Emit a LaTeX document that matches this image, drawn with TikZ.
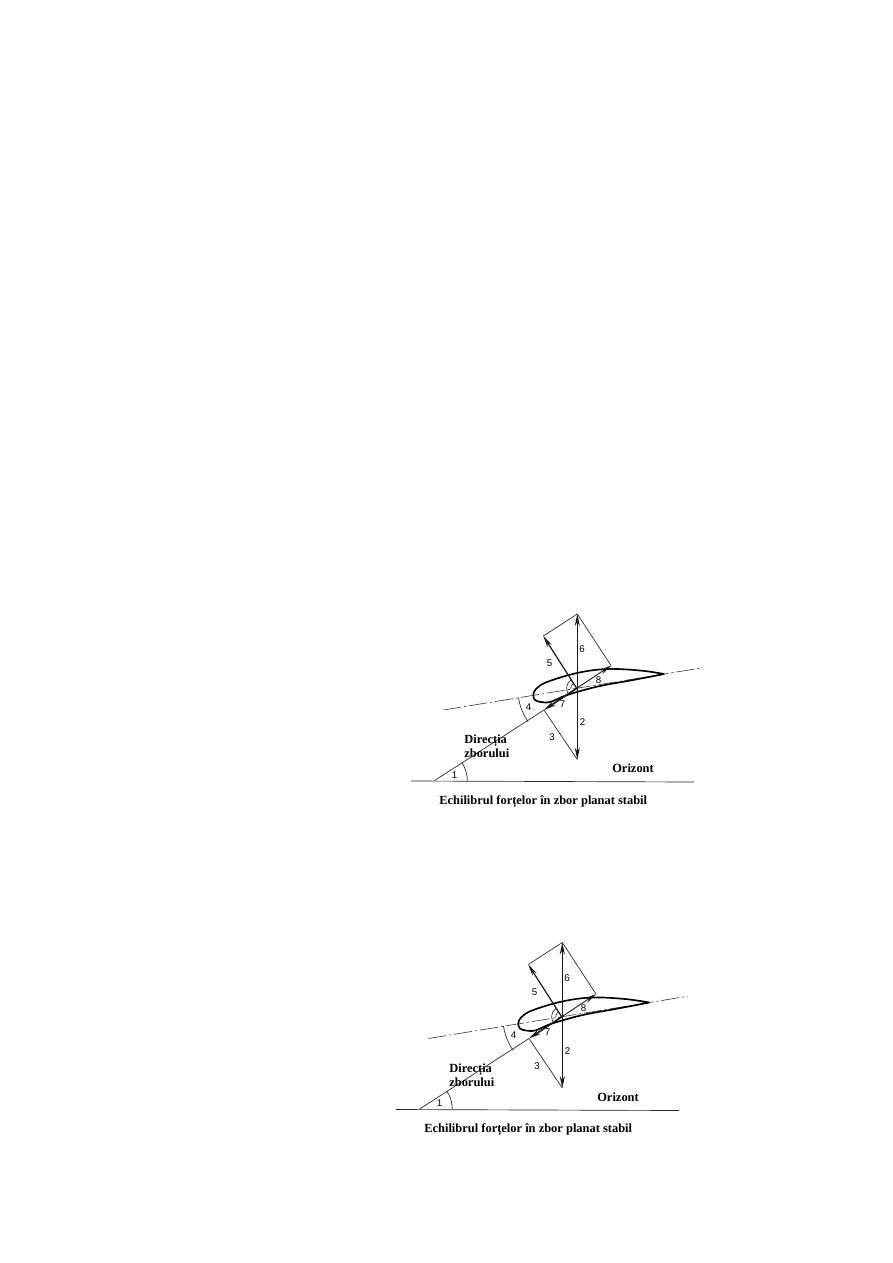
\documentclass[tikz,border=0pt]{standalone}
\usepackage{fontspec}
\setmainfont{Liberation Serif}
\newfontfamily\numfont{Liberation Sans}
\usetikzlibrary{arrows.meta}

\tikzset{
  thin line/.style={draw=black!85, line width=.45pt},
  force/.style={draw=black!90, line width=.8pt, -{Stealth[length=8pt,width=3.4pt]}},
  wing/.style={draw=black, line width=1.1pt, line join=round},
  chord/.style={draw=black!80, line width=.4pt, dash pattern=on 12pt off 2pt on 1.5pt off 2pt},
  num/.style={font=\numfont\fontsize{6.5}{7}\selectfont, inner sep=0pt},
  word/.style={font=\bfseries\fontsize{8.3}{9.6}\selectfont, inner sep=0pt, align=left}
}

\begin{document}
\begin{tikzpicture}[x=.6667pt,y=-.6667pt]

  \useasboundingbox (0,0) rectangle (893,1263);

  \foreach \dx/\dy in {0/0,-15/328.5} {
    \begin{scope}[shift={(\dx,\dy)}]
      \coordinate (hleft)  at (411,781);
      \coordinate (hright) at (694,782);
      \coordinate (start)  at (434.3,780.7);
      \coordinate (center) at (576.7,688.3);
      \coordinate (top)    at (577.3,614);
      \coordinate (bottom) at (577.3,759.5);
      \coordinate (lift)   at (543.3,636);
      \coordinate (weight) at (544,710);
      \coordinate (total)  at (611,665.5);
      \coordinate (cleft)  at (443.3,710);
      \coordinate (cright) at (703,667.7);

      \draw[thin line] (hleft) -- (hright);
      \draw[thin line] (start) -- (weight);
      \draw[chord] (cleft) -- (cright);

      \draw[wing] plot[smooth,tension=.6] coordinates {(664.3,674) (640,670.5) (607,669) (577,673)
        (547,682) (536,689) (533.3,695) (535,700) (541,702) (550,702) (563,696.5) (577,692) (600,686) (633,680) (664.3,674)};

      % forces
      \draw[force,{Stealth[length=8pt,width=3.4pt]}-{Stealth[length=8pt,width=3.4pt]}] (top) -- (bottom);
      \draw[force] (center) -- (lift);
      \draw[force,line width=1.1pt] (center) -- (weight);
      \draw[force,line width=.6pt] (center) -- (total);

      \draw[thin line] (lift) -- (top) -- (total);
      \draw[thin line] (weight) -- (bottom);

      % angles
      \draw[thin line] (start) ++(0:33) arc[start angle=0,end angle=-33,radius=33];
      \draw[thin line] (center) ++(171:59) arc[start angle=171,end angle=145.5,radius=59];
      \draw[thin line] (center) ++(237:10) arc[start angle=237,end angle=146,radius=10];
      \draw[thin line] (center) ++(237:6) arc[start angle=237,end angle=172,radius=6];

      \node[num] (n1) at (454.5,775) {1};
      \node[num] (n2) at (582.5,722.5) {2};
      \node[num] (n3) at (552,737.5) {3};
      \node[num] (n4) at (528.5,707) {4};
      \node[num] (n5) at (549.5,663.5) {5};
      \node[num] (n6) at (582,649.5) {6};
      \node[num] (n7) at (562.5,704) {7};
      \node[num] (n8) at (598.5,680) {8};

      \node[word,anchor=west] (dir) at (464,746.5) {Direcția\\zborului};
      \node[word,anchor=west] (hor) at (612,768.5) {Orizont};
      \node[word,anchor=west] (cap) at (439,801.5) {Echilibrul forțelor în zbor planat stabil};
    \end{scope}
  }

\end{tikzpicture}
\end{document}
